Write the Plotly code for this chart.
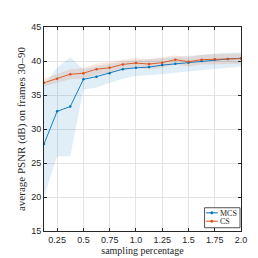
import plotly.graph_objects as go

x = [0.125, 0.25, 0.375, 0.5, 0.625, 0.75, 0.875, 1.0, 1.125, 1.25, 1.375, 1.5, 1.625, 1.75, 1.875, 2.0]
mcs = [27.8, 32.6, 33.3, 37.3, 37.7, 38.2, 38.8, 39.0, 39.1, 39.4, 39.6, 39.75, 40.0, 40.2, 40.3, 40.4]
mcs_hi = [36.4, 39.0, 40.5, 38.8, 39.2, 39.6, 39.9, 40.1, 40.2, 40.4, 40.6, 40.8, 41.0, 41.1, 41.2, 41.3]
mcs_lo = [20.1, 26.0, 26.0, 35.8, 36.1, 36.8, 37.4, 37.8, 37.9, 38.0, 38.3, 38.5, 38.7, 38.9, 39.0, 39.2]
cs = [36.8, 37.4, 38.05, 38.2, 38.8, 39.0, 39.5, 39.7, 39.55, 39.75, 40.2, 39.9, 40.2, 40.25, 40.3, 40.35]
cs_hi = [37.4, 38.1, 38.8, 39.0, 39.6, 39.8, 40.2, 40.4, 40.3, 40.5, 40.8, 40.6, 40.9, 41.0, 41.0, 41.1]
cs_lo = [36.2, 36.8, 37.3, 37.4, 38.0, 38.2, 38.7, 39.0, 38.8, 39.0, 39.5, 39.2, 39.5, 39.5, 39.6, 39.6]
xticks = [0.25, 0.5, 0.75, 1.0, 1.25, 1.5, 1.75, 2.0]
xtick_labels = ["0.25", "0.5", "0.75", "1.0", "1.25", "1.5", "1.75", "2.0"]
yticks = [15, 20, 25, 30, 35, 40, 45]
series_names = ["MCS", "CS"]

BLUE = "#0072BD"
ORANGE = "#D95319"
colors = [BLUE, ORANGE]
SERIF = "Liberation Serif, Times New Roman"
INK = "#262626"

fig = go.Figure()
fig.add_trace(go.Scatter(x=x + x[::-1], y=mcs_hi + mcs_lo[::-1], fill="toself",
                         fillcolor="rgba(0,114,189,0.12)", line=dict(width=0),
                         showlegend=False, hoverinfo="skip"))
fig.add_trace(go.Scatter(x=x + x[::-1], y=cs_hi + cs_lo[::-1], fill="toself",
                         fillcolor="rgba(217,83,25,0.14)", line=dict(width=0),
                         showlegend=False, hoverinfo="skip"))
for name, ys, c in zip(series_names, [mcs, cs], colors):
    fig.add_trace(go.Scatter(x=x, y=ys, mode="lines+markers", name=name, showlegend=False,
                             line=dict(color=c, width=0.9), marker=dict(size=2.5, color=c)))

axis_common = dict(showline=True, linecolor=INK, linewidth=1, mirror="ticks",
                   ticks="inside", ticklen=3, tickcolor=INK,
                   showgrid=True, gridcolor="#e3e3e3", gridwidth=1, zeroline=False,
                   tickfont=dict(family="Liberation Sans, Arial", size=9, color=INK))

# compact legend box (paper coordinates), mimicking the MATLAB legend
shapes = [dict(type="rect", xref="paper", yref="paper", x0=0.815, x1=0.995, y0=0.016, y1=0.114,
               line=dict(color=INK, width=0.8), fillcolor="white", layer="above")]
annotations = []
for i, (name, c) in enumerate(zip(series_names, colors)):
    yy = 0.089 - i * 0.041
    shapes.append(dict(type="line", xref="paper", yref="paper", x0=0.822, x1=0.882, y0=yy, y1=yy,
                       line=dict(color=c, width=1), layer="above"))
    shapes.append(dict(type="circle", xref="paper", yref="paper", x0=0.846, x1=0.858,
                       y0=yy - 0.006, y1=yy + 0.006, line=dict(color=c, width=0.5),
                       fillcolor=c, layer="above"))
    annotations.append(dict(xref="paper", yref="paper", x=0.885, y=yy, text=name, showarrow=False,
                            xanchor="left", yanchor="middle", height=8, valign="middle",
                            font=dict(family=SERIF, size=8, color=INK)))

fig.update_layout(
    width=258, height=258,
    margin=dict(l=33, r=25, t=19, b=29),
    paper_bgcolor="white", plot_bgcolor="white",
    showlegend=False,
    shapes=shapes, annotations=annotations,
    xaxis=dict(range=[0.125, 2.0], tickvals=xticks, ticktext=xtick_labels,
               title=dict(text="sampling percentage", standoff=2,
                          font=dict(family=SERIF, size=10, color=INK)),
               **axis_common),
    yaxis=dict(range=[15, 45], tickvals=yticks,
               title=dict(text="average PSNR (dB) on frames 30–90", standoff=3,
                          font=dict(family=SERIF, size=11, color=INK)),
               **axis_common),
)

fig.write_html("out.html")
